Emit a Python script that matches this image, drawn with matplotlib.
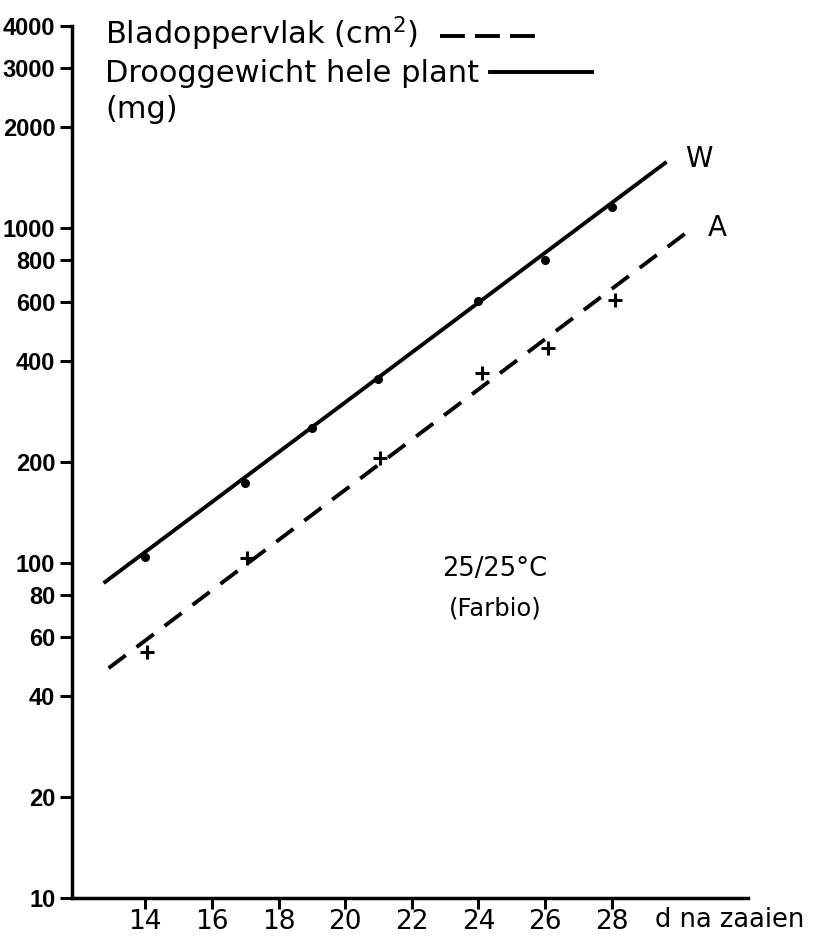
import matplotlib
matplotlib.use("Agg")
import matplotlib.pyplot as plt
from matplotlib.lines import Line2D
from matplotlib.ticker import FixedLocator, FixedFormatter, NullLocator

# --- data ---
w_days = [14, 17, 19, 21, 24, 26, 28]
w_values = [104, 173, 252, 354, 605, 802, 1150]          # Drooggewicht hele plant (mg)
w_line_days = [12.75, 29.65]
w_line_values = [87, 1570]

a_days = [14.05, 17.05, 21.05, 24.1, 26.1, 28.1]
a_values = [54, 103, 206, 369, 438, 610]                   # Bladoppervlak (cm2)
a_line_days = [12.9, 30.45]
a_line_values = [48.5, 1000]

y_ticks = [10, 20, 40, 60, 80, 100, 200, 400, 600, 800, 1000, 2000, 3000, 4000]
y_tick_labels = [str(v) for v in y_ticks]
x_ticks = [14, 16, 18, 20, 22, 24, 26, 28]
x_tick_labels = [str(v) for v in x_ticks]

fig = plt.figure(figsize=(8.24, 9.52), dpi=100)
ax = fig.add_axes([0.0874, 0.0567, 0.8206, 0.9163])

ax.set_yscale('log')
ax.set_xlim(11.8, 32.1)
ax.set_ylim(10, 4000)

ax.plot(w_line_days, w_line_values, color='black', lw=2.8, solid_capstyle='butt')
ax.plot(w_days, w_values, 'o', color='black', ms=5.5)
ax.plot(a_line_days, a_line_values, color='black', lw=2.8, dashes=(5.5, 3.5))
ax.plot(a_days, a_values, '+', color='black', ms=10, mew=2.2)

for s in ['top', 'right']:
    ax.spines[s].set_visible(False)
for s in ['left', 'bottom']:
    ax.spines[s].set_linewidth(2.5)

ax.yaxis.set_major_locator(FixedLocator(y_ticks))
ax.yaxis.set_major_formatter(FixedFormatter(y_tick_labels))
ax.yaxis.set_minor_locator(NullLocator())
ax.xaxis.set_major_locator(FixedLocator(x_ticks))
ax.xaxis.set_major_formatter(FixedFormatter(x_tick_labels))

ax.tick_params(axis='y', direction='out', length=9, width=2.2, pad=3, labelsize=17)
ax.tick_params(axis='x', direction='out', length=8, width=2.2, pad=0, labelsize=19)
for lab in ax.get_yticklabels():
    lab.set_fontfamily(['Liberation Sans', 'DejaVu Sans'])
    lab.set_fontweight('bold')

ax.text(29.3, 10 ** (1 - 9 / 335), 'd na zaaien', fontsize=18.5, ha='left', va='top')

ax.text(30.2, 1600, 'W', fontsize=20, ha='left', va='center')
ax.text(30.9, 1000, 'A', fontsize=20, ha='left', va='center')
ax.text(24.5, 96, '25/25°C', fontsize=18.5, ha='center', va='center')
ax.text(24.5, 73, '(Farbio)', fontsize=17.5, ha='center', va='center')

fig.text(105 / 824, 1 - 34 / 952, 'Bladoppervlak (cm$^2$)', fontsize=22,
         ha='left', va='center')
fig.text(105 / 824, 1 - 73 / 952, 'Drooggewicht hele plant', fontsize=22,
         ha='left', va='center')
fig.text(105 / 824, 1 - 110 / 952, '(mg)', fontsize=22, ha='left', va='center')

fig.add_artist(Line2D([440 / 824, 535 / 824], [1 - 36 / 952, 1 - 36 / 952],
                      color='black', lw=2.8, dashes=(6.4, 2.6)))
fig.add_artist(Line2D([490 / 824, 592 / 824], [1 - 72 / 952, 1 - 72 / 952],
                      color='black', lw=2.8))

fig.savefig('out.png', dpi=100)
